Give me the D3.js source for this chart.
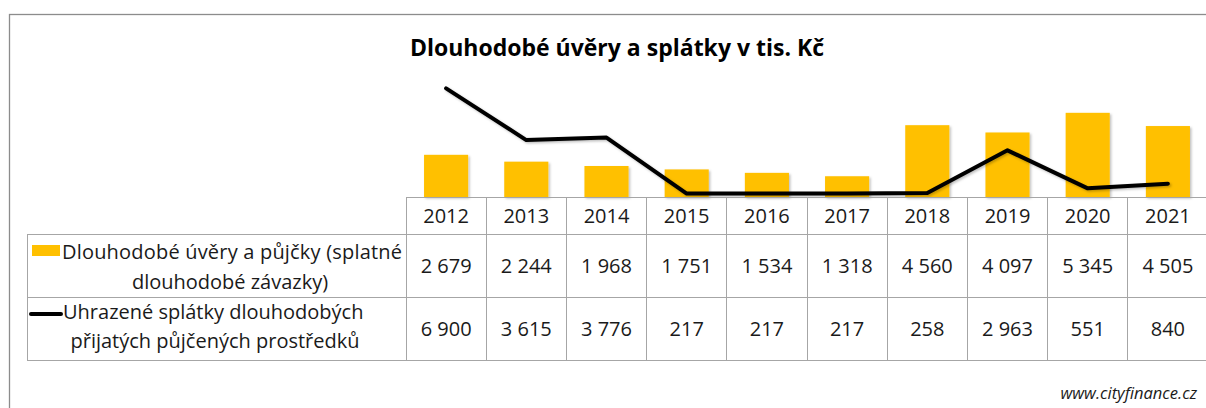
<!DOCTYPE html>
<html>
<head>
<meta charset="utf-8">
<script src="https://cdn.jsdelivr.net/npm/d3@7"></script>
<style>
  body { margin: 0; background: #fff; }
  svg text { font-family: "Open Sans", sans-serif; fill: #1a1a1a; }
</style>
</head>
<body>
<div id="chart"></div>
<script>
const years = ["2012", "2013", "2014", "2015", "2016", "2017", "2018", "2019", "2020", "2021"]
const uvery = [2679, 2244, 1968, 1751, 1534, 1318, 4560, 4097, 5345, 4505]
const splatky = [6900, 3615, 3776, 217, 217, 217, 258, 2963, 551, 840]
const seriesNames = [
    ["Dlouhodobé úvěry a půjčky (splatné", "dlouhodobé závazky)"],
    ["Uhrazené splátky dlouhodobých", "přijatých půjčených prostředků"]
]
const title = "Dlouhodobé úvěry a splátky v tis. Kč"

const fmt = v => d3.format(",")(v).replace(/,/g, " ")

const W = 1206, H = 408
const svg = d3.select("#chart").append("svg")
    .attr("width", W)
    .attr("height", H)

// shadow for the marks
const defs = svg.append("defs")
const f = defs.append("filter").attr("id", "sh").attr("x", "-10%").attr("y", "-10%").attr("width", "130%").attr("height", "130%")
f.append("feDropShadow").attr("dx", 1.5).attr("dy", 1.5).attr("stdDeviation", 1.2).attr("flood-color", "#000").attr("flood-opacity", 0.25)

// outer frame
svg.append("rect")
    .attr("x", 9.5).attr("y", 14.5)
    .attr("width", 1220).attr("height", 420)
    .attr("fill", "none").attr("stroke", "#8c8c8c").attr("stroke-width", 1.3)

svg.append("text")
    .attr("x", 617).attr("y", 56)
    .attr("text-anchor", "middle")
    .attr("font-size", 23).attr("font-weight", "bold")
    .style("fill", "#000")
    .text(title)

// scales
const left = 406, right = 1208
const xCol = d3.scaleBand().domain(years).range([left, right])
const xBar = d3.scaleBand().domain(years).range([left, right]).paddingInner(0.45).paddingOuter(0.225)
const y = d3.scaleLinear().domain([0, 8000]).range([197, 71])

// bars
svg.append("g").selectAll("rect")
    .data(years)
    .enter().append("rect")
    .attr("x", d => xBar(d))
    .attr("y", (d, i) => y(uvery[i]))
    .attr("width", xBar.bandwidth())
    .attr("height", (d, i) => y(0) - y(uvery[i]))
    .attr("fill", "#ffc000")
    .attr("filter", "url(#sh)")

// line
const line = d3.line()
    .x(d => xCol(d[0]) + xCol.bandwidth() / 2)
    .y(d => y(d[1]))
svg.append("path")
    .datum(years.map((d, i) => [d, splatky[i]]))
    .attr("d", line)
    .attr("fill", "none")
    .attr("stroke", "#000")
    .attr("stroke-width", 4)
    .attr("stroke-linejoin", "round")
    .attr("stroke-linecap", "round")
    .attr("filter", "url(#sh)")

// data table
const rows = [197, 234, 297, 360]
const grid = svg.append("g").attr("stroke", "#a6a6a6").attr("stroke-width", 1).attr("shape-rendering", "crispEdges")
grid.append("line").attr("x1", left).attr("x2", right).attr("y1", rows[0]).attr("y2", rows[0])
rows.slice(1).forEach(r => {
    grid.append("line").attr("x1", 27).attr("x2", right).attr("y1", r).attr("y2", r)
})
grid.append("line").attr("x1", 27).attr("x2", 27).attr("y1", rows[1]).attr("y2", rows[3])
years.forEach(d => {
    grid.append("line").attr("x1", xCol(d)).attr("x2", xCol(d)).attr("y1", rows[0]).attr("y2", rows[3])
})

const cell = svg.append("g").attr("text-anchor", "middle").attr("font-size", 20)
cell.selectAll(".yr").data(years).enter().append("text")
    .attr("x", d => xCol(d) + xCol.bandwidth() / 2)
    .attr("y", (rows[0] + rows[1]) / 2)
    .attr("dy", "0.36em")
    .text(d => d)
cell.selectAll(".v1").data(uvery).enter().append("text")
    .attr("x", (d, i) => xCol(years[i]) + xCol.bandwidth() / 2)
    .attr("y", (rows[1] + rows[2]) / 2)
    .attr("dy", "0.36em")
    .text(d => fmt(d))
cell.selectAll(".v2").data(splatky).enter().append("text")
    .attr("x", (d, i) => xCol(years[i]) + xCol.bandwidth() / 2)
    .attr("y", (rows[2] + rows[3]) / 2)
    .attr("dy", "0.36em")
    .text(d => fmt(d))

// legend cells
const leg = svg.append("g").attr("font-size", 20)
leg.append("rect").attr("x", 32).attr("y", 245).attr("width", 28).attr("height", 11).attr("fill", "#ffc000")
leg.append("text").attr("x", 62).attr("y", 252).attr("dy", "0.36em").attr("textLength", 340).text(seriesNames[0][0])
leg.append("text").attr("x", 230).attr("y", 282).attr("dy", "0.36em").attr("text-anchor", "middle").text(seriesNames[0][1])
leg.append("line").attr("x1", 31).attr("x2", 61).attr("y1", 314).attr("y2", 314)
    .attr("stroke", "#000").attr("stroke-width", 4).attr("stroke-linecap", "round")
leg.append("text").attr("x", 63).attr("y", 312).attr("dy", "0.36em").text(seriesNames[1][0])
leg.append("text").attr("x", 215).attr("y", 341).attr("dy", "0.36em").attr("text-anchor", "middle").text(seriesNames[1][1])

svg.append("text")
    .attr("x", 1197).attr("y", 399)
    .attr("text-anchor", "end")
    .attr("font-size", 16.5).attr("font-style", "italic")
    .text("www.cityfinance.cz")
</script>
</body>
</html>
